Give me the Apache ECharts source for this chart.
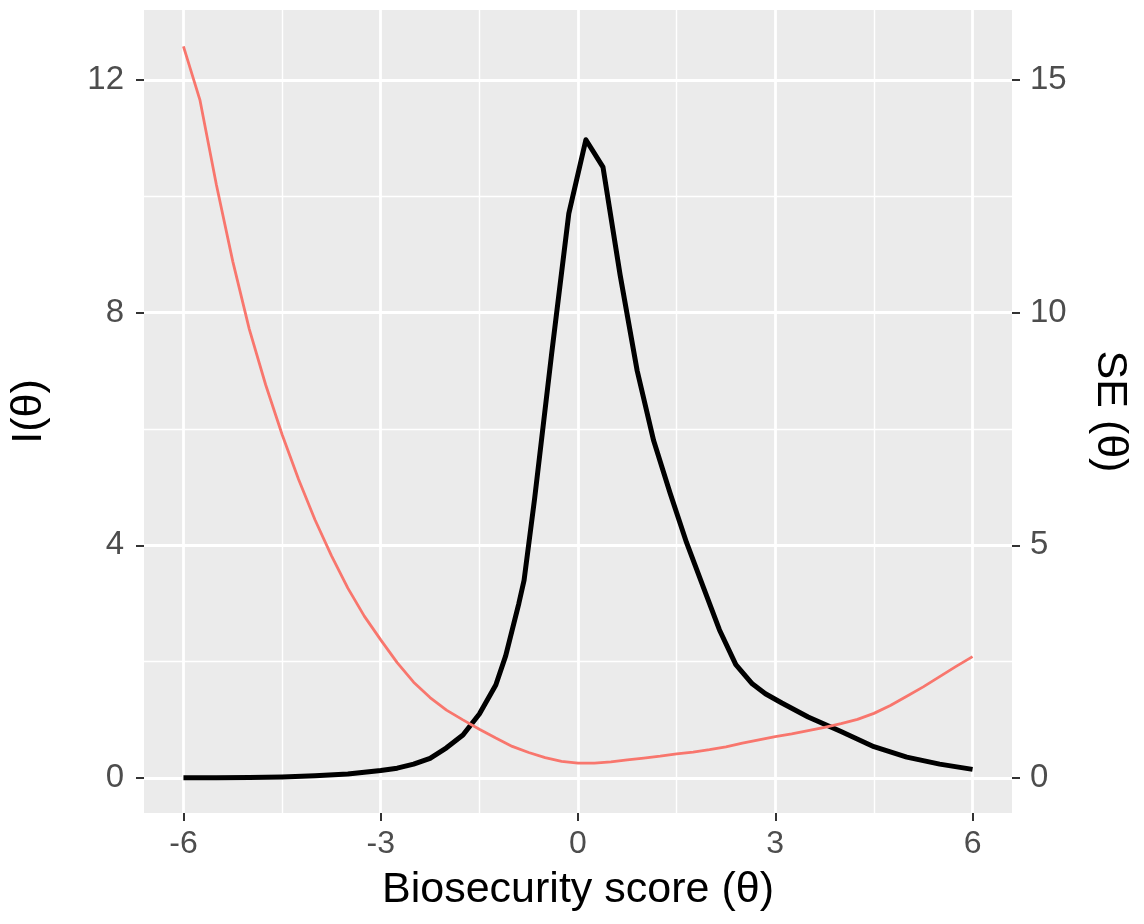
<!DOCTYPE html>
<html>
<head>
<meta charset="utf-8">
<script src="https://cdn.jsdelivr.net/npm/echarts@6/dist/echarts.min.js"></script>
<style>
  html, body { margin: 0; padding: 0; background: #fff; }
  #chart { width: 1144px; height: 924px; }
</style>
</head>
<body>
<div id="chart"></div>
<script>
// test information curve I(theta)
var thetaInfo = [-6, -5.5, -5, -4.5, -4, -3.5, -3, -2.75, -2.5, -2.25, -2, -1.75, -1.5, -1.25, -1.1, -0.9, -0.82,
  -0.66, -0.4, -0.14, 0.12, 0.38, 0.64, 0.9, 1.15, 1.4, 1.65, 1.9, 2.15, 2.4, 2.65, 2.85, 3.1, 3.5, 4, 4.5, 5, 5.5, 6];
var infoVals = [0.004, 0.006, 0.01, 0.02, 0.04, 0.07, 0.13, 0.17, 0.24, 0.34, 0.52, 0.74, 1.1, 1.6, 2.1, 3.0, 3.4,
  4.8, 7.3, 9.7, 10.97, 10.5, 8.65, 7.0, 5.8, 4.9, 4.05, 3.3, 2.55, 1.95, 1.62, 1.45, 1.29, 1.05, 0.8, 0.54, 0.36, 0.24, 0.15];

// standard error curve SE(theta)
var thetaSE = [-6, -5.75, -5.5, -5.25, -5, -4.75, -4.5, -4.25, -4, -3.75, -3.5, -3.25, -3, -2.75, -2.5, -2.25, -2,
  -1.75, -1.5, -1.25, -1, -0.75, -0.5, -0.25, 0, 0.25, 0.5, 0.75, 1, 1.25, 1.5, 1.75, 2, 2.25, 2.5, 2.75, 3,
  3.25, 3.5, 3.75, 4, 4.25, 4.5, 4.75, 5, 5.25, 5.5, 5.75, 6];
var seVals = [15.72, 14.57, 12.75, 11.1, 9.65, 8.45, 7.38, 6.42, 5.55, 4.78, 4.08, 3.48, 2.97, 2.48, 2.06, 1.73, 1.46,
  1.25, 1.05, 0.86, 0.68, 0.55, 0.44, 0.36, 0.32, 0.32, 0.35, 0.39, 0.43, 0.47, 0.52, 0.56, 0.61, 0.67, 0.75, 0.82, 0.89,
  0.95, 1.02, 1.09, 1.17, 1.26, 1.39, 1.56, 1.76, 1.96, 2.18, 2.40, 2.61];

var xTicks = [-6, -3, 0, 3, 6];
var xMinor = [-4.5, -1.5, 1.5, 4.5];
var yTicks = [0, 4, 8, 12];
var yMinor = [2, 6, 10];
var seTicks = [0, 5, 10, 15];

var font = 'Liberation Sans, Arial, sans-serif';
var chart = echarts.init(document.getElementById('chart'));

function zip(xs, ys) {
  return xs.map(function (x, i) { return [x, ys[i]]; });
}

var option = {
  backgroundColor: '#ffffff',
  animation: false,
  grid: {
    left: 143, right: 132, top: 10, bottom: 111,
    show: true, backgroundColor: '#EBEBEB', borderWidth: 0
  },
  xAxis: [{
    type: 'value', min: -6.6, max: 6.6, position: 'bottom',
    name: 'Biosecurity score (θ)', nameLocation: 'middle', nameGap: 56,
    nameTextStyle: { fontSize: 43, color: '#000', fontFamily: font },
    axisLine: { show: false, onZero: false },
    axisTick: { show: true, length: 8, customValues: xTicks, lineStyle: { color: '#333', width: 2 } },
    axisLabel: { customValues: xTicks, fontSize: 32, color: '#4D4D4D', fontFamily: font, margin: 15 },
    splitLine: { show: true, lineStyle: { color: '#fff', width: 2.8 } }
  }, {
    type: 'value', min: -6.6, max: 6.6, position: 'bottom',
    axisLine: { show: false, onZero: false },
    axisTick: { show: false, customValues: xMinor },
    axisLabel: { show: false, customValues: xMinor },
    splitLine: { show: true, lineStyle: { color: '#fff', width: 1.4 } }
  }],
  yAxis: [{
    type: 'value', min: -0.6, max: 13.2, position: 'left',
    name: 'I(θ)', nameLocation: 'middle', nameGap: 93,
    nameTextStyle: { fontSize: 43, color: '#000', fontFamily: font },
    axisLine: { show: false, onZero: false },
    axisTick: { show: true, length: 8, customValues: yTicks, lineStyle: { color: '#333', width: 2 } },
    axisLabel: { customValues: yTicks, fontSize: 33, color: '#4D4D4D', fontFamily: font, margin: 20 },
    splitLine: { show: true, lineStyle: { color: '#fff', width: 2.8 } }
  }, {
    type: 'value', min: -0.6, max: 13.2, position: 'left',
    axisLine: { show: false, onZero: false },
    axisTick: { show: false, customValues: yMinor },
    axisLabel: { show: false, customValues: yMinor },
    splitLine: { show: true, lineStyle: { color: '#fff', width: 1.4 } }
  }, {
    type: 'value', min: -0.75, max: 16.5, position: 'right',
    name: 'SE (θ)', nameLocation: 'middle', nameGap: 76, nameRotate: -90,
    nameTextStyle: { fontSize: 43, color: '#000', fontFamily: font },
    axisLine: { show: false, onZero: false },
    axisTick: { show: true, length: 8, customValues: seTicks, lineStyle: { color: '#333', width: 2 } },
    axisLabel: { customValues: seTicks, fontSize: 33, color: '#4D4D4D', fontFamily: font, margin: 18 },
    splitLine: { show: false }
  }],
  series: [{
    name: 'I', type: 'line', xAxisIndex: 0, yAxisIndex: 0,
    data: zip(thetaInfo, infoVals),
    showSymbol: false, symbol: 'none',
    lineStyle: { color: '#000', width: 5, join: 'round' },
    z: 3
  }, {
    name: 'SE', type: 'line', xAxisIndex: 0, yAxisIndex: 2,
    data: zip(thetaSE, seVals),
    showSymbol: false, symbol: 'none',
    lineStyle: { color: '#F8766D', width: 2.8 },
    z: 4
  }]
};
chart.setOption(option);
</script>
</body>
</html>
